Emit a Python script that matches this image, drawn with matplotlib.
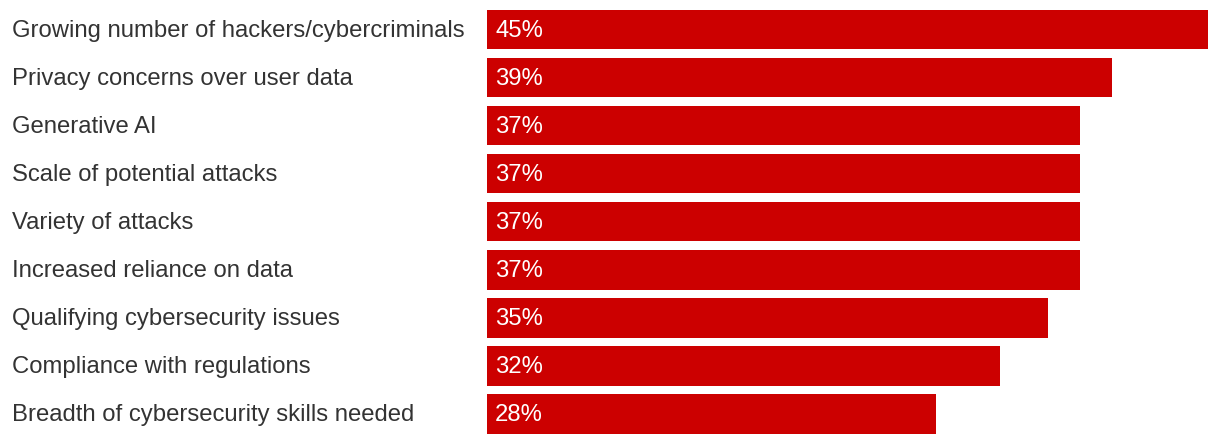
import matplotlib
matplotlib.use("Agg")
import matplotlib.pyplot as plt
from matplotlib.transforms import blended_transform_factory, ScaledTranslation

categories = [
    "Growing number of hackers/cybercriminals",
    "Privacy concerns over user data",
    "Generative AI",
    "Scale of potential attacks",
    "Variety of attacks",
    "Increased reliance on data",
    "Qualifying cybersecurity issues",
    "Compliance with regulations",
    "Breadth of cybersecurity skills needed",
]
values = [45, 39, 37, 37, 37, 37, 35, 32, 28]
value_labels = ["45%", "39%", "37%", "37%", "37%", "37%", "35%", "32%", "28%"]

plt.rcParams['font.family'] = ['Liberation Sans', 'DejaVu Sans']

W, H = 1220, 444
fig = plt.figure(figsize=(W / 100, H / 100), dpi=100)
x0, x1 = 487, 1208
ax = fig.add_axes([x0 / W, 0, (x1 - x0) / W, 1])

pitch = 48.06
c0 = 29.5
ax.set_xlim(0, 45)
ax.set_ylim((H - c0) / pitch, -c0 / pitch)

ypos = list(range(len(categories)))
ax.barh(ypos, values, height=0.82, color="#CC0000", edgecolor="none")

shift = ScaledTranslation(0, -1.5 / 100, fig.dpi_scale_trans)
for y, v, lab in zip(ypos, values, value_labels):
    ax.text(0.5, y, lab, color="white", fontsize=17.2, va="center", ha="left",
            transform=ax.transData + shift)

trans = blended_transform_factory(fig.transFigure, ax.transData) + shift
for y, cat in zip(ypos, categories):
    ax.text(12 / W, y, cat, transform=trans, color="#333333", fontsize=17.2,
            va="center", ha="left")

ax.axis("off")
fig.savefig("out.png", dpi=100)
